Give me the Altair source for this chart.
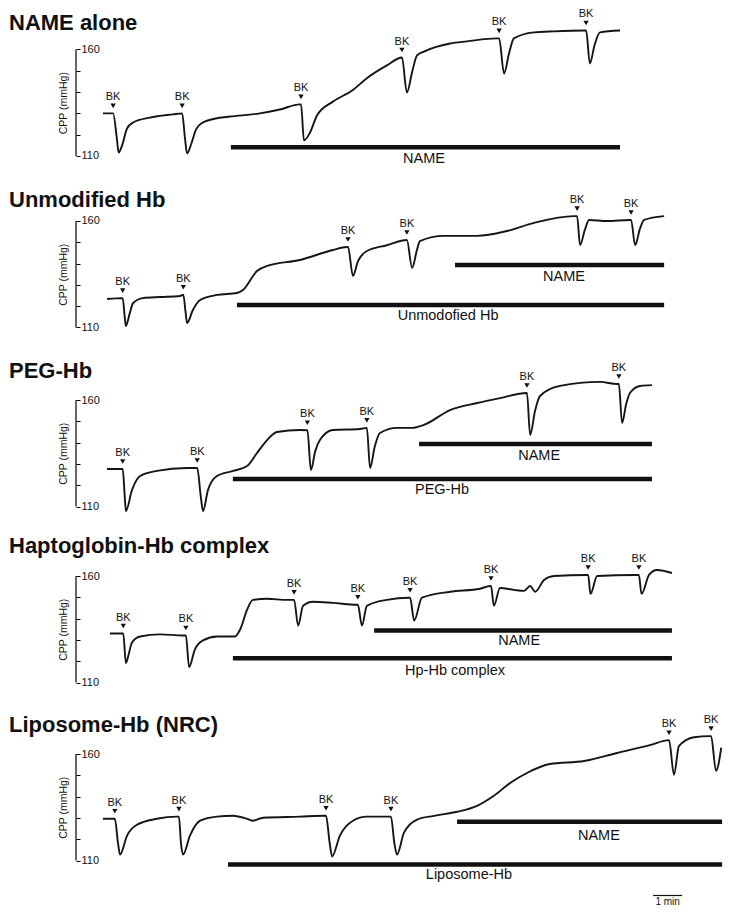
import altair as alt
import pandas as pd

FONT = "Liberation Sans"
PPU = 2.13            # pixels per mmHg
PPM = 29.0            # pixels per minute
X_MIN, X_MAX = -68 / PPM, 646 / PPM
WIDTH = 714

titles = ["NAME alone", "Unmodified Hb", "PEG-Hb", "Haptoglobin-Hb complex", "Liposome-Hb (NRC)"]
domains = [(97.3, 178.05), (94.74, 177.84), (96.62, 178.78), (96.62, 179.25), (88.2, 180.19)]
heading_y = [12, 17, 11, 11, 14]

# ---------- traces (time in min, CPP in mmHg) ----------
p1_t = [0.93, 1.28, 1.41, 1.47, 1.59, 1.76, 1.97, 2.55, 3.34, 3.66, 3.76, 3.83, 3.97, 4.14, 4.35, 4.9, 5.31,
        6.34, 7.03, 7.72, 7.76, 7.86, 8.07, 8.31, 8.86, 9.55, 10.03, 10.72, 11.24, 11.41, 11.6, 11.76, 12.0,
        12.9, 13.48, 14.52, 14.59, 14.76, 14.93, 15.1, 15.79, 16.48, 17.52, 17.59, 17.72, 17.88, 18.07, 18.76]
p1_v = [130.0, 130.0, 118.0, 111.6, 115.0, 122.9, 125.7, 128.0, 129.5, 130.0, 118.0, 111.2, 115.5, 122.5, 125.5,
        127.8, 128.5, 130.0, 131.8, 134.2, 134.2, 117.3, 121.0, 129.0, 135.5, 141.0, 146.5, 152.5, 156.2, 139.8,
        150.0, 157.2, 159.0, 162.8, 163.8, 165.2, 165.2, 148.7, 158.0, 165.2, 168.0, 168.5, 168.9, 168.9, 153.4,
        162.0, 168.0, 168.9]

p2_t = [1.07, 1.61, 1.68, 1.72, 1.85, 1.97, 2.31, 2.9, 3.59, 3.7, 3.78, 3.83, 4.03, 4.28, 4.86, 5.55, 5.76, 6.24,
        6.59, 7.72, 8.86, 9.34, 9.38, 9.55, 9.72, 10.03, 10.72, 11.41, 11.59, 11.75, 11.86, 12.69, 13.83, 14.86,
        15.79, 17.17, 17.28, 17.38, 17.55, 17.69, 18.31, 19.1, 19.14, 19.28, 19.45, 19.59, 20.28]
p2_v = [123.4, 123.8, 115.0, 110.7, 116.5, 121.5, 123.8, 124.3, 124.8, 125.4, 117.0, 112.1, 118.2, 122.9, 125.3,
        126.2, 127.6, 136.5, 138.9, 141.7, 146.4, 147.8, 147.8, 134.2, 141.0, 145.9, 148.6, 151.1, 138.0, 146.0,
        150.6, 153.0, 153.0, 155.3, 159.1, 162.3, 162.3, 148.7, 156.0, 160.5, 160.0, 160.5, 160.5, 148.7, 156.5,
        160.5, 162.3]

p3_t = [1.07, 1.61, 1.68, 1.72, 1.93, 2.21, 2.79, 3.83, 4.18, 4.3, 4.38, 4.55, 4.86, 5.41, 5.9, 6.24, 6.59, 6.93,
        7.72, 7.98, 8.1, 8.25, 8.41, 8.86, 9.79, 10.03, 10.14, 10.3, 10.48, 11.07, 11.59, 12.0, 12.9, 13.83, 14.62,
        15.55, 15.66, 15.83, 16.0, 16.69, 18.07, 18.66, 18.72, 18.83, 18.97, 19.1, 19.45, 19.86]
p3_v = [127.6, 127.6, 115.0, 107.9, 117.7, 124.3, 126.7, 128.1, 128.1, 115.0, 107.9, 117.7, 124.3, 126.7, 129.0,
        135.1, 141.2, 145.0, 145.9, 145.8, 127.1, 136.0, 141.2, 145.9, 146.4, 146.9, 128.1, 138.0, 144.5, 146.9,
        146.9, 148.3, 155.3, 158.6, 160.9, 163.3, 143.6, 155.0, 161.9, 166.6, 168.5, 167.5, 167.5, 149.2, 158.0,
        163.3, 166.6, 167.0]

p4_t = [1.17, 1.63, 1.72, 1.83, 1.93, 2.21, 2.9, 3.69, 3.79, 3.9, 4.1, 4.38, 4.86, 5.48, 5.66, 5.9, 6.1, 6.59,
        7.28, 7.52, 7.66, 7.83, 8.17, 8.86, 9.69, 9.72, 9.86, 10.03, 10.72, 11.48, 11.52, 11.66, 11.93, 12.9,
        13.93, 14.28, 14.31, 14.41, 14.62, 15.1, 15.45, 15.66, 15.83, 16.14, 16.48, 17.62, 17.66, 17.74, 17.97,
        19.24, 19.41, 19.5, 19.76, 20.03, 20.55]
p4_v = [133.0, 133.0, 119.1, 124.0, 128.8, 131.6, 132.6, 132.1, 132.1, 117.2, 125.6, 129.8, 131.6, 131.6, 134.9,
        144.2, 148.8, 149.3, 148.8, 148.8, 136.7, 146.0, 147.9, 147.4, 146.5, 146.5, 136.7, 146.0, 148.8, 149.8,
        149.8, 139.1, 149.8, 152.6, 154.0, 155.3, 155.3, 146.0, 154.4, 153.5, 153.0, 155.3, 152.6, 158.1, 160.0,
        160.5, 160.5, 151.6, 160.0, 160.5, 160.5, 151.6, 160.5, 162.8, 161.4]

p5_t = [0.93, 1.34, 1.45, 1.52, 1.76, 2.1, 2.79, 3.48, 3.55, 3.62, 3.69, 3.93, 4.28, 4.86, 5.41, 5.9, 6.1, 6.45,
        7.72, 8.59, 8.62, 8.75, 8.83, 9.1, 9.55, 10.03, 10.72, 10.86, 10.98, 11.07, 11.31, 11.76, 12.34, 13.14,
        13.83, 14.41, 14.97, 15.55, 16.34, 17.52, 18.66, 19.79, 20.45, 20.62, 20.79, 21.31, 21.86, 21.9, 22.07, 22.25]
p5_v = [129.6, 129.6, 118.0, 112.8, 121.7, 126.8, 129.6, 130.6, 130.6, 118.0, 112.8, 121.7, 128.7, 130.6, 131.0,
        129.6, 128.7, 130.1, 130.6, 131.0, 131.0, 118.0, 111.9, 121.7, 128.7, 130.6, 130.6, 130.6, 118.0, 112.8,
        123.1, 129.2, 131.0, 132.9, 135.7, 140.4, 146.4, 151.1, 155.3, 156.7, 160.5, 164.2, 166.5, 150.2, 163.7,
        167.9, 168.4, 168.4, 152.1, 163.0]

traces = [(p1_t, p1_v), (p2_t, p2_v), (p3_t, p3_v), (p4_t, p4_v), (p5_t, p5_v)]

# ---------- BK injections ----------
bk_t = [[1.28, 3.66, 7.76, 11.24, 14.59, 17.59],
        [1.61, 3.7, 9.38, 11.41, 17.28, 19.14],
        [1.61, 4.18, 7.98, 10.03, 15.55, 18.72],
        [1.63, 3.79, 7.52, 9.72, 11.52, 14.31, 17.66, 19.41],
        [1.34, 3.55, 8.62, 10.86, 20.45, 21.9]]
bk_v = [[130.0, 130.0, 134.2, 156.2, 165.2, 168.9],
        [123.8, 125.4, 147.8, 151.1, 162.3, 160.5],
        [127.6, 128.1, 145.8, 146.9, 163.3, 167.5],
        [133.0, 132.1, 148.8, 146.5, 149.8, 155.3, 160.5, 160.5],
        [129.6, 130.6, 131.0, 130.6, 166.5, 168.4]]

# ---------- infusion bars ----------
bar_label = [["NAME"], ["NAME", "Unmodofied Hb"], ["NAME", "PEG-Hb"], ["NAME", "Hp-Hb complex"], ["NAME", "Liposome-Hb"]]
bar_start = [[5.34], [13.07, 5.55], [11.83, 5.41], [10.28, 5.41], [13.14, 5.24]]
bar_end = [[18.76], [20.28, 20.28], [19.86, 19.86], [20.55, 20.55], [22.28, 22.28]]
bar_level = [[114.1], [139.3, 120.6], [139.3, 122.9], [134.4, 121.4], [128.2, 108.1]]
label_t = [[12.0], [16.83, 12.83], [15.97, 12.62], [15.28, 13.07], [18.03, 13.55]]
label_v = [[108.8], [133.7, 115.4], [133.7, 117.7], [129.3, 115.3], [121.7, 103.0]]

# ---------- time scale bar ----------
scale_label = ["1 min"]
scale_start = [19.9]
scale_end = [20.9]
scale_level = [93.6]
scale_text_v = [90.7]

xscale = alt.Scale(domain=[X_MIN, X_MAX], nice=False, zero=False)


def panel(i):
    lo, hi = domains[i]
    height = round((hi - lo) * PPU)
    yscale = alt.Scale(domain=[lo, hi], nice=False, zero=False)
    yaxis = alt.Axis(orient="right", offset=-(WIDTH - 68), values=[110, 120, 130, 140, 150, 160],
                     tickSize=4, tickColor="black", tickWidth=1, domain=False, grid=False,
                     labelExpr="datum.value == 110 || datum.value == 160 ? datum.label : ''",
                     labelFontSize=11, labelPadding=1, labelColor="#111", labelFont=FONT,
                     title="CPP  (mmHg)", titleX=-13, titleY=(hi - 135) * PPU, titleAngle=270,
                     titleAlign="center", titleBaseline="middle",
                     titleFontSize=10.5, titleFontWeight="normal", titleFont=FONT, titleColor="#111")

    def X(f):
        return alt.X(f, type="quantitative", scale=xscale, axis=None)

    def Y(f):
        return alt.Y(f, type="quantitative", scale=yscale, axis=yaxis)

    t, v = traces[i]
    df_tr = pd.DataFrame({"t": t, "v": v})
    line = alt.Chart(df_tr).mark_line(color="#151515", strokeWidth=1.9, interpolate="monotone").encode(
        x=X("t"), y=Y("v"))

    df_ax = pd.DataFrame({"t": [0.0], "a": [110], "b": [160]})
    axline = alt.Chart(df_ax).mark_rule(color="black", strokeWidth=1.2).encode(
        x=X("t"), y=Y("a"), y2="b")

    df_bk = pd.DataFrame({"t": bk_t[i], "v": bk_v[i], "lab": ["BK"] * len(bk_t[i])})
    tri = alt.Chart(df_bk).mark_point(shape="triangle-down", filled=True, size=28, color="#111",
                                      opacity=1, yOffset=-7.5).encode(x=X("t"), y=Y("v"))
    bktxt = alt.Chart(df_bk).mark_text(fontSize=11, font=FONT, color="#111", dy=-16,
                                        baseline="middle").encode(x=X("t"), y=Y("v"), text="lab:N")

    df_bar = pd.DataFrame({"s": bar_start[i], "e": bar_end[i], "v": bar_level[i],
                           "lab": bar_label[i], "lt": label_t[i], "lv": label_v[i]})
    bars = alt.Chart(df_bar).mark_rule(color="#111", strokeWidth=4.5).encode(
        x=X("s"), x2="e", y=Y("v"))
    barlab = alt.Chart(df_bar).mark_text(fontSize=14.5, font=FONT, color="#111", baseline="middle").encode(
        x=X("lt"), y=Y("lv"), text="lab:N")

    df_head = pd.DataFrame({"h": [titles[i]]})
    head = alt.Chart(df_head).mark_text(align="left", baseline="middle", fontSize=22, fontWeight="bold",
                                        font=FONT, color="#111").encode(
        x=alt.value(1), y=alt.value(heading_y[i]), text="h:N")

    layers = [line, axline, tri, bktxt, bars, barlab, head]
    if i == 4:
        df_sc = pd.DataFrame({"s": scale_start, "e": scale_end, "v": scale_level,
                              "tv": scale_text_v, "lab": scale_label})
        sc = alt.Chart(df_sc).mark_rule(color="#111", strokeWidth=1.2).encode(x=X("s"), x2="e", y=Y("v"))
        sct = alt.Chart(df_sc).transform_calculate(m="(datum.s + datum.e) / 2").mark_text(
            fontSize=10, font=FONT, color="#111", baseline="middle").encode(
            x=X("m"), y=Y("tv"), text="lab:N")
        layers += [sc, sct]
    return alt.layer(*layers).properties(width=WIDTH, height=height)


chart = alt.vconcat(*[panel(i) for i in range(5)], spacing=0, bounds="flush").properties(
    padding=0).configure(font=FONT).configure_view(strokeWidth=0)

chart.save("out.html", embed_options={"renderer": "svg", "actions": False})
